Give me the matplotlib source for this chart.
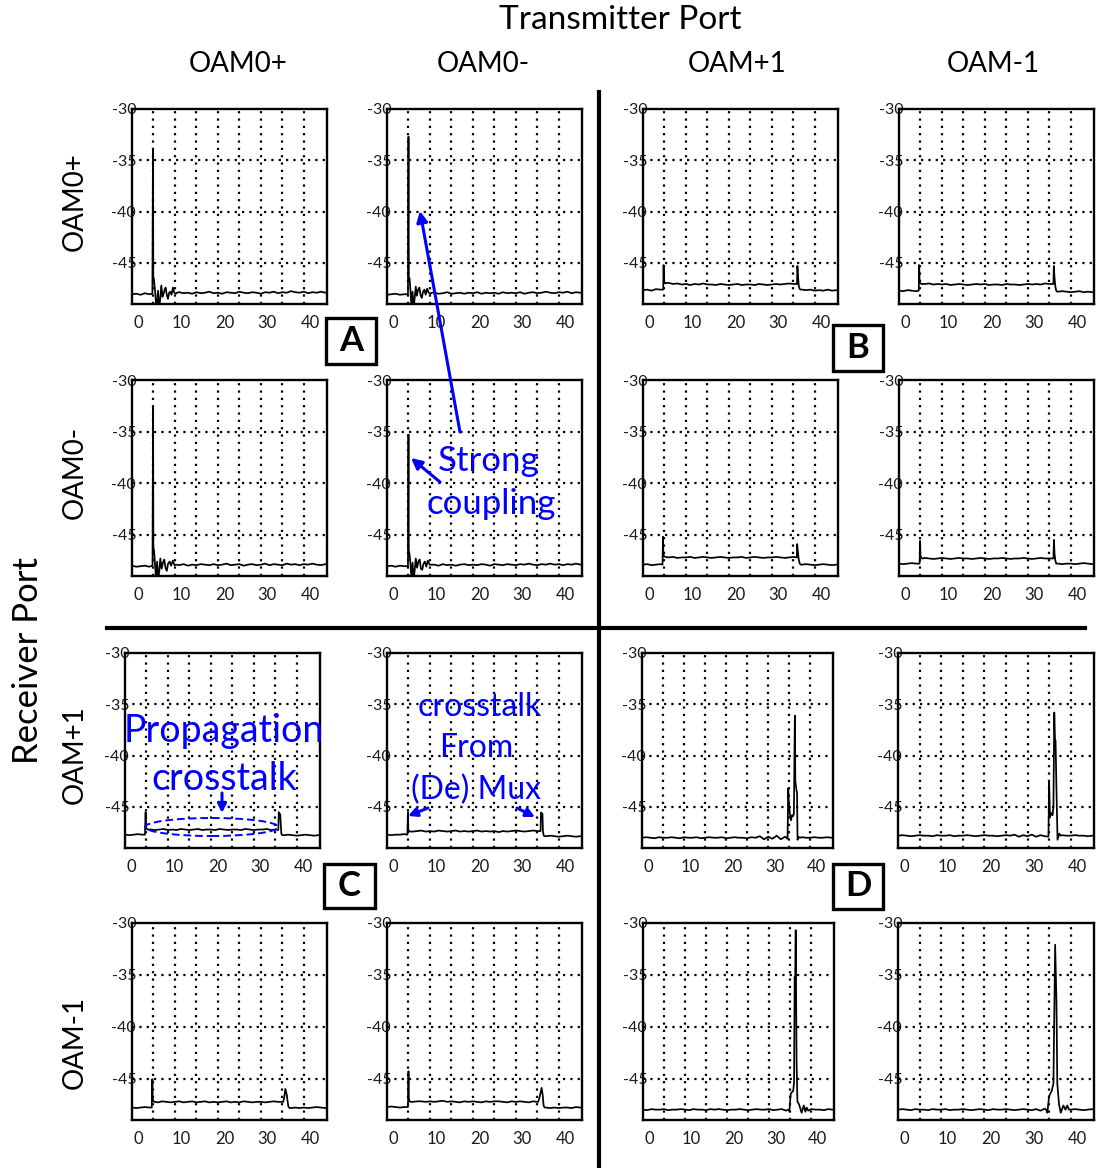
import matplotlib
matplotlib.use("Agg")
import matplotlib.pyplot as plt
from matplotlib.lines import Line2D
from matplotlib.patches import Rectangle, Ellipse, FancyArrowPatch

plt.rcParams['font.family'] = ['Lato', 'DejaVu Sans']
plt.rcParams['axes.unicode_minus'] = False

# ---------------------------------------------------------------- data ----
TX_PORTS = ['OAM0+', 'OAM0-', 'OAM+1', 'OAM-1']   # columns (transmitter)
RX_PORTS = ['OAM0+', 'OAM0-', 'OAM+1', 'OAM-1']   # rows (receiver)

X_TICKS = [0, 10, 20, 30, 40]
Y_TICKS = [-30, -35, -40, -45]
X_GRID = [3.5, 8.5, 13.5, 18.5, 23.5, 28.5, 33.5, 38.5]
Y_GRID = [-35, -40, -45]

# sample positions of the noise floor (shared by all traces)
BASE_X = [-1.5, -0.5, 0.5, 1.5, 2.5, 3.5, 4.5, 5.5, 6.5, 7.5,
          8.5, 9.5, 10.5, 11.5, 12.5, 13.5, 14.5, 15.5, 16.5, 17.5,
          18.5, 19.5, 20.5, 21.5, 22.5, 23.5, 24.5, 25.5, 26.5, 27.5,
          28.5, 29.5, 30.5, 31.5, 32.5, 33.5, 34.5, 35.5, 36.5, 37.5,
          38.5, 39.5, 40.5, 41.5, 42.5, 43.5, 43.9]

# --- Rx OAM0+ / Tx OAM0+
r1c1_base = [-48.05, -48.0, -48.1, -47.95, -48.05, -48.0, -48.0, -48.0, -48.0, -48.0,
             -47.95, -47.85, -47.95, -47.9, -48.0, -47.85, -47.95, -47.9, -47.8, -47.95,
             -47.9, -48.0, -47.85, -47.9, -47.95, -47.8, -47.9, -47.95, -47.85, -47.9,
             -48.0, -47.85, -47.9, -47.8, -47.95, -47.85, -47.9, -47.75, -47.85, -47.9,
             -47.8, -47.95, -47.85, -47.9, -47.8, -47.9, -47.85]
r1c1_px = [3.25, 3.38, 3.45, 3.62, 3.93, 4.15, 4.31, 4.55, 4.78, 5.05, 5.32, 5.6,
           5.86, 6.1, 6.33, 6.6, 6.87, 7.15, 7.41, 7.7, 8.03, 8.35, 8.66, 9.0]
r1c1_py = [-48.0, -34.0, -46.3, -46.65, -48.0, -49.4, -49.4, -47.7, -49.4, -48.6, -47.2, -48.3,
           -48.0, -47.6, -47.4, -48.1, -48.5, -47.9, -47.8, -48.1, -47.4, -47.9, -48.0, -47.9]

# --- Rx OAM0+ / Tx OAM0-
r1c2_base = [-48.1, -48.05, -48.0, -48.1, -48.05, -48.0, -48.0, -48.0, -48.0, -48.0,
             -48.0, -47.9, -48.0, -47.95, -47.85, -48.0, -47.95, -47.9, -48.0, -47.9,
             -47.95, -47.85, -48.0, -47.9, -47.95, -47.9, -48.0, -47.85, -47.95, -47.9,
             -47.95, -47.85, -48.0, -47.9, -47.85, -47.95, -47.9, -47.8, -47.9, -47.95,
             -47.85, -47.9, -47.8, -47.95, -47.85, -47.9, -47.9]
r1c2_px = [3.38, 3.5, 3.58, 3.75, 4.0, 4.2, 4.45, 4.7, 4.95, 5.2, 5.45,
           5.75, 6.05, 6.35, 6.6, 6.9, 7.2, 7.5, 7.85, 8.2, 8.6, 9.0]
r1c2_py = [-48.05, -32.7, -46.4, -46.5, -47.9, -49.4, -47.8, -49.4, -48.4, -47.3, -48.2,
           -47.6, -47.4, -48.2, -48.4, -47.8, -47.6, -48.1, -47.5, -47.9, -48.0, -47.9]

# --- Rx OAM0+ / Tx OAM+1
r1c3_base = [-47.65, -47.6, -47.7, -47.55, -47.6, -47.0, -46.95, -47.05, -47.0, -47.1,
             -47.05, -47.15, -47.05, -47.1, -47.0, -47.1, -47.1, -47.15, -47.05, -47.1,
             -47.15, -47.1, -47.05, -47.15, -47.1, -47.1, -47.15, -47.05, -47.1, -47.15,
             -47.1, -47.05, -47.1, -47.05, -47.0, -47.05, -47.0, -47.6, -47.65, -47.6,
             -47.7, -47.65, -47.7, -47.6, -47.7, -47.65, -47.7]
r1c3_lx = [3.2, 3.3, 3.38, 3.6, 3.85]
r1c3_ly = [-47.6, -45.2, -46.8, -47.0, -46.95]
r1c3_rx = [34.35, 34.45, 34.6, 34.75, 35.0, 35.25]
r1c3_ry = [-47.05, -45.3, -46.3, -47.2, -47.55, -47.6]

# --- Rx OAM0+ / Tx OAM-1
r1c4_base = [-47.7, -47.75, -47.65, -47.7, -47.75, -47.0, -47.05, -47.0, -47.1, -47.05,
             -47.1, -47.05, -47.15, -47.1, -47.05, -47.1, -47.15, -47.1, -47.05, -47.1,
             -47.05, -47.15, -47.1, -47.1, -47.15, -47.05, -47.1, -47.1, -47.15, -47.1,
             -47.05, -47.1, -47.05, -47.1, -47.0, -47.05, -47.0, -47.8, -47.75, -47.8,
             -47.85, -47.8, -47.75, -47.85, -47.8, -47.85, -47.8]
r1c4_lx = [3.1, 3.2, 3.3, 3.5, 3.8]
r1c4_ly = [-47.7, -45.2, -46.9, -47.0, -47.05]
r1c4_rx = [34.45, 34.55, 34.7, 34.9, 35.1, 35.35]
r1c4_ry = [-47.05, -45.3, -46.4, -47.3, -47.7, -47.8]

# --- Rx OAM0- / Tx OAM0+
r2c1_base = [-48.0, -48.1, -48.05, -48.0, -48.1, -48.0, -48.0, -48.0, -48.0, -48.0,
             -47.9, -47.95, -47.85, -48.0, -47.9, -47.95, -47.85, -47.9, -47.95, -47.85,
             -47.95, -47.9, -47.8, -47.95, -47.9, -47.85, -48.0, -47.9, -47.85, -47.95,
             -47.9, -47.8, -47.95, -47.85, -47.9, -47.95, -47.8, -47.9, -47.85, -47.95,
             -47.85, -47.9, -47.8, -47.9, -47.95, -47.85, -47.9]
r2c1_px = [3.28, 3.4, 3.47, 3.65, 3.9, 4.1, 4.35, 4.6, 4.85, 5.1, 5.4,
           5.7, 6.0, 6.3, 6.6, 6.9, 7.25, 7.6, 8.0, 8.4, 8.8]
r2c1_py = [-48.0, -32.6, -46.2, -46.6, -48.1, -49.4, -47.6, -49.4, -48.5, -47.3, -48.3,
           -47.7, -47.4, -48.2, -48.5, -47.8, -47.6, -48.0, -47.5, -47.95, -47.9]

# --- Rx OAM0- / Tx OAM0-
r2c2_base = [-48.05, -48.0, -48.1, -48.0, -48.05, -48.0, -48.0, -48.0, -48.0, -48.0,
             -47.95, -47.9, -48.0, -47.85, -47.95, -47.9, -48.0, -47.9, -47.85, -47.95,
             -47.9, -47.95, -47.85, -47.9, -48.0, -47.85, -47.9, -47.95, -47.85, -47.9,
             -47.95, -47.85, -47.9, -47.8, -47.9, -47.95, -47.85, -47.9, -47.8, -47.9,
             -47.85, -47.95, -47.85, -47.9, -47.8, -47.9, -47.85]
r2c2_px = [3.38, 3.5, 3.57, 3.72, 3.98, 4.2, 4.45, 4.7, 4.95, 5.2, 5.5,
           5.8, 6.1, 6.4, 6.7, 7.0, 7.3, 7.65, 8.0, 8.4, 8.8]
r2c2_py = [-48.05, -35.3, -46.5, -46.8, -47.9, -49.4, -47.7, -49.4, -48.4, -47.3, -48.2,
           -47.6, -47.4, -48.3, -48.4, -47.8, -47.6, -48.1, -47.5, -47.9, -47.9]

# --- Rx OAM0- / Tx OAM+1
r2c3_base = [-47.9, -47.85, -47.95, -47.9, -47.85, -47.15, -47.2, -47.15, -47.25, -47.2,
             -47.2, -47.15, -47.25, -47.2, -47.15, -47.2, -47.25, -47.2, -47.15, -47.2,
             -47.25, -47.2, -47.2, -47.15, -47.25, -47.2, -47.15, -47.2, -47.25, -47.2,
             -47.2, -47.15, -47.2, -47.25, -47.2, -47.15, -47.2, -47.9, -47.85, -47.9,
             -47.95, -47.9, -47.85, -47.9, -47.95, -47.9, -47.85]
r2c3_lx = [3.05, 3.15, 3.25, 3.45, 3.75]
r2c3_ly = [-47.9, -45.2, -46.9, -47.1, -47.15]
r2c3_rx = [34.3, 34.4, 34.55, 34.75, 35.0, 35.25]
r2c3_ry = [-47.2, -45.9, -46.6, -47.4, -47.8, -47.9]

# --- Rx OAM0- / Tx OAM-1
r2c4_base = [-47.8, -47.85, -47.8, -47.75, -47.8, -47.3, -47.25, -47.3, -47.35, -47.3,
             -47.25, -47.3, -47.35, -47.3, -47.25, -47.3, -47.3, -47.35, -47.3, -47.25,
             -47.3, -47.35, -47.3, -47.3, -47.25, -47.3, -47.35, -47.3, -47.3, -47.25,
             -47.3, -47.35, -47.3, -47.25, -47.3, -47.3, -47.3, -47.8, -47.85, -47.8,
             -47.8, -47.85, -47.8, -47.75, -47.8, -47.85, -47.8]
r2c4_lx = [3.3, 3.4, 3.5, 3.7, 3.95]
r2c4_ly = [-47.8, -45.6, -47.0, -47.25, -47.3]
r2c4_rx = [34.45, 34.58, 34.7, 34.9, 35.1, 35.35]
r2c4_ry = [-47.3, -45.5, -46.8, -47.5, -47.8, -47.8]

# --- Rx OAM+1 / Tx OAM0+
r3c1_base = [-47.7, -47.75, -47.7, -47.65, -47.7, -47.2, -47.2, -47.25, -47.2, -47.15,
             -47.25, -47.2, -47.25, -47.15, -47.2, -47.25, -47.2, -47.15, -47.25, -47.2,
             -47.2, -47.25, -47.15, -47.2, -47.25, -47.2, -47.2, -47.25, -47.15, -47.2,
             -47.25, -47.2, -47.2, -47.15, -47.25, -47.2, -47.2, -47.75, -47.7, -47.75,
             -47.8, -47.75, -47.7, -47.75, -47.8, -47.75, -47.7]
r3c1_lx = [3.15, 3.3, 3.4, 3.6, 3.85]
r3c1_ly = [-47.7, -45.5, -47.0, -47.15, -47.2]
r3c1_rx = [34.2, 34.3, 34.5, 34.65, 34.75, 34.9, 35.1]
r3c1_ry = [-47.25, -45.5, -45.8, -45.7, -46.6, -47.6, -47.75]

# --- Rx OAM+1 / Tx OAM0-
r3c2_base = [-47.7, -47.75, -47.7, -47.7, -47.65, -47.35, -47.4, -47.35, -47.3, -47.4,
             -47.35, -47.4, -47.3, -47.35, -47.4, -47.35, -47.3, -47.4, -47.35, -47.4,
             -47.35, -47.3, -47.4, -47.35, -47.4, -47.35, -47.45, -47.35, -47.4, -47.35,
             -47.3, -47.35, -47.4, -47.35, -47.3, -47.35, -47.35, -47.85, -47.8, -47.85,
             -47.9, -47.85, -47.8, -47.85, -47.9, -47.85, -47.9]
r3c2_lx = [3.25, 3.38, 3.45, 3.65, 3.9]
r3c2_ly = [-47.7, -45.5, -47.2, -47.35, -47.4]
r3c2_rx = [34.25, 34.35, 34.5, 34.7, 34.8, 35.0, 35.2]
r3c2_ry = [-47.35, -45.55, -45.6, -45.7, -47.4, -47.8, -47.85]

# --- Rx OAM+1 / Tx OAM+1
r3c3_base = [-48.0, -47.95, -48.0, -48.05, -47.95, -48.0, -48.0, -47.95, -48.0, -48.05,
             -47.95, -48.0, -48.0, -47.95, -48.05, -48.0, -47.95, -48.0, -48.0, -47.95,
             -48.05, -48.0, -47.95, -48.0, -48.0, -48.05, -47.95, -48.0, -47.85, -48.15,
             -47.9, -48.1, -47.8, -48.15, -47.9, -48.1, -48.0, -48.0, -47.95, -48.0,
             -48.0, -47.95, -48.0, -48.0, -47.95, -48.0, -48.0]
r3c3_px = [33.1, 33.25, 33.4, 33.65, 33.9, 34.2, 34.4, 34.6, 34.83, 34.95,
           35.23, 35.35, 35.47, 35.7, 36.0]
r3c3_py = [-48.1, -43.2, -44.5, -45.65, -46.3, -45.8, -45.9, -45.7, -36.1, -42.5,
           -43.4, -43.6, -48.2, -47.9, -48.0]

# --- Rx OAM+1 / Tx OAM-1
r3c4_base = [-47.8, -47.75, -47.8, -47.85, -47.8, -47.75, -47.8, -47.8, -47.85, -47.75,
             -47.8, -47.8, -47.75, -47.85, -47.8, -47.8, -47.75, -47.8, -47.85, -47.8,
             -47.75, -47.8, -47.8, -47.85, -47.8, -47.75, -47.8, -47.7, -47.9, -47.75,
             -47.85, -47.7, -47.9, -47.75, -47.85, -47.8, -47.8, -47.8, -47.75, -47.8,
             -47.8, -47.75, -47.8, -47.8, -47.85, -47.8, -47.75]
r3c4_px = [33.35, 33.5, 33.7, 34.0, 34.3, 34.5, 34.7, 34.85, 35.0, 35.2,
           35.45, 35.85, 36.2]
r3c4_py = [-47.9, -42.6, -46.0, -45.6, -45.8, -45.0, -35.8, -38.3, -38.6, -43.2,
           -48.2, -47.6, -47.8]

# --- Rx OAM-1 / Tx OAM0+
r4c1_base = [-47.8, -47.85, -47.8, -47.75, -47.8, -47.25, -47.3, -47.2, -47.25, -47.3,
             -47.25, -47.2, -47.3, -47.25, -47.2, -47.3, -47.25, -47.2, -47.3, -47.25,
             -47.3, -47.25, -47.2, -47.3, -47.25, -47.3, -47.2, -47.25, -47.3, -47.25,
             -47.25, -47.3, -47.25, -47.2, -47.25, -47.25, -47.25, -47.85, -47.8, -47.85,
             -47.8, -47.85, -47.8, -47.75, -47.8, -47.85, -47.8]
r4c1_lx = [3.1, 3.24, 3.32, 3.5, 3.75]
r4c1_ly = [-47.8, -45.06, -46.9, -47.2, -47.25]
r4c1_rx = [33.7, 33.95, 34.2, 34.5, 34.9, 35.2]
r4c1_ry = [-47.25, -46.8, -46.0, -46.5, -47.7, -47.85]

# --- Rx OAM-1 / Tx OAM0-
r4c2_base = [-47.75, -47.7, -47.75, -47.8, -47.75, -47.2, -47.25, -47.2, -47.2, -47.25,
             -47.2, -47.25, -47.2, -47.15, -47.25, -47.2, -47.25, -47.3, -47.2, -47.25,
             -47.2, -47.25, -47.3, -47.2, -47.25, -47.2, -47.2, -47.25, -47.3, -47.2,
             -47.25, -47.2, -47.25, -47.3, -47.2, -47.25, -47.25, -47.8, -47.85, -47.8,
             -47.85, -47.8, -47.8, -47.85, -47.75, -47.8, -47.85]
r4c2_lx = [3.38, 3.5, 3.58, 3.75, 4.0]
r4c2_ly = [-47.75, -44.3, -46.9, -47.2, -47.25]
r4c2_rx = [33.7, 33.95, 34.25, 34.5, 34.75, 34.95, 35.2]
r4c2_ry = [-47.25, -46.9, -46.4, -45.9, -46.6, -47.6, -47.8]

# --- Rx OAM-1 / Tx OAM+1
r4c3_base = [-48.0, -48.05, -47.95, -48.0, -48.0, -47.95, -48.05, -48.0, -48.0, -47.95,
             -48.0, -48.05, -47.95, -48.0, -48.0, -48.05, -47.95, -48.0, -47.95, -48.0,
             -48.05, -48.0, -48.0, -47.95, -48.0, -48.05, -48.0, -47.95, -48.0, -48.0,
             -47.95, -48.05, -48.0, -47.95, -48.1, -48.0, -48.0, -48.0, -48.0, -48.0,
             -47.95, -48.0, -48.0, -48.05, -47.95, -48.0, -48.0]
r4c3_px = [33.0, 33.3, 33.6, 33.9, 34.2, 34.4, 34.55, 34.65, 34.8, 35.0, 35.2,
           35.6, 36.2, 36.7, 37.1, 37.4, 37.8, 38.2]
r4c3_py = [-48.0, -48.15, -46.5, -46.3, -46.2, -45.4, -35.2, -36.0, -30.7, -43.3, -47.2,
           -47.5, -48.3, -47.6, -48.2, -47.8, -48.1, -48.0]

# --- Rx OAM-1 / Tx OAM-1
r4c4_base = [-48.0, -47.95, -48.0, -48.05, -47.95, -48.0, -48.0, -48.05, -47.95, -48.0,
             -48.0, -47.95, -48.05, -48.0, -48.0, -47.95, -48.0, -48.05, -48.0, -47.95,
             -48.0, -48.05, -47.95, -48.0, -48.0, -47.95, -48.0, -48.05, -48.0, -47.95,
             -48.0, -48.05, -47.95, -48.1, -47.9, -48.0, -48.0, -48.0, -48.0, -48.0,
             -48.0, -47.95, -48.0, -48.05, -48.0, -47.95, -48.0]
r4c4_px = [32.8, 33.1, 33.5, 34.1, 34.5, 34.9, 35.2, 35.4, 35.8, 36.2, 36.8,
           37.3, 37.7, 38.1]
r4c4_py = [-48.0, -48.3, -46.7, -46.2, -45.5, -32.1, -37.5, -45.5, -47.5, -48.3, -47.6,
           -48.0, -47.6, -48.0]

# noise floor + event segments for every receiver/transmitter pair
PANELS = [
    [(r1c1_base, [(r1c1_px, r1c1_py)]),
     (r1c2_base, [(r1c2_px, r1c2_py)]),
     (r1c3_base, [(r1c3_lx, r1c3_ly), (r1c3_rx, r1c3_ry)]),
     (r1c4_base, [(r1c4_lx, r1c4_ly), (r1c4_rx, r1c4_ry)])],
    [(r2c1_base, [(r2c1_px, r2c1_py)]),
     (r2c2_base, [(r2c2_px, r2c2_py)]),
     (r2c3_base, [(r2c3_lx, r2c3_ly), (r2c3_rx, r2c3_ry)]),
     (r2c4_base, [(r2c4_lx, r2c4_ly), (r2c4_rx, r2c4_ry)])],
    [(r3c1_base, [(r3c1_lx, r3c1_ly), (r3c1_rx, r3c1_ry)]),
     (r3c2_base, [(r3c2_lx, r3c2_ly), (r3c2_rx, r3c2_ry)]),
     (r3c3_base, [(r3c3_px, r3c3_py)]),
     (r3c4_base, [(r3c4_px, r3c4_py)])],
    [(r4c1_base, [(r4c1_lx, r4c1_ly), (r4c1_rx, r4c1_ry)]),
     (r4c2_base, [(r4c2_lx, r4c2_ly), (r4c2_rx, r4c2_ry)]),
     (r4c3_base, [(r4c3_px, r4c3_py)]),
     (r4c4_base, [(r4c4_px, r4c4_py)])],
]


def merge_trace(base_y, segments):
    """Noise-floor samples outside the event segments, plus the segments."""
    spans = [(min(sx), max(sx)) for sx, _ in segments]
    pts = [(x, y) for x, y in zip(BASE_X, base_y)
           if not any(lo <= x <= hi for lo, hi in spans)]
    for sx, sy in segments:
        pts.extend(zip(sx, sy))
    pts.sort()
    return [p[0] for p in pts], [p[1] for p in pts]


# -------------------------------------------------------------- layout ----
W, H = 1099, 1168
fig = plt.figure(figsize=(W / 100, H / 100), dpi=100)
fig.patch.set_facecolor('white')


def fx(px):
    return px / W


def fy(py):
    return 1 - py / H


PANEL_LEFT = [[132, 387, 643, 899],
              [132, 387, 643, 899],
              [125, 387, 642, 898],
              [132, 387, 643, 898]]
PANEL_WIDTH = [[195, 195, 195, 195],
               [195, 195, 195, 195],
               [195, 195, 191, 196],
               [195, 195, 191, 196]]
PANEL_TOP = [109, 380, 653, 923]
PANEL_HEIGHT = [195, 196, 195, 197]

GRID_STYLE = dict(color='black', lw=1.6, ls=(0, (1.0, 2.3)), zorder=1)

for r in range(4):
    for c in range(4):
        left, wid = PANEL_LEFT[r][c], PANEL_WIDTH[r][c]
        top, hei = PANEL_TOP[r], PANEL_HEIGHT[r]
        ax = fig.add_axes([fx(left), fy(top + hei), wid / W, hei / H])
        ax.set_xlim(-1.5, 43.9)
        ax.set_ylim(-49, -30)
        ax.set_xticks(X_TICKS)
        ax.set_xticklabels([str(v) for v in X_TICKS])
        ax.set_yticks(Y_TICKS)
        ax.set_yticklabels([str(v) for v in Y_TICKS])
        ax.tick_params(axis='both', length=0, colors='#1a1a1a')
        ax.tick_params(axis='x', labelsize=12, pad=8)
        ax.tick_params(axis='y', labelsize=11.5, pad=-3)
        for gx in X_GRID:
            ax.axvline(gx, **GRID_STYLE)
        for gy in Y_GRID:
            ax.axhline(gy, **GRID_STYLE)
        for sp in ax.spines.values():
            sp.set_linewidth(1.7)
            sp.set_color('black')
            sp.set_zorder(4)
        base_y, segs = PANELS[r][c]
        tx, ty = merge_trace(base_y, segs)
        ax.plot(tx, ty, color='black', lw=1.25, zorder=3)

# ------------------------------------------------------ headers / labels ----
fig.text(fx(620), fy(20), 'Transmitter Port', fontsize=24, ha='center', va='center')
for x_px, name in zip([238, 483, 737, 993], TX_PORTS):
    fig.text(fx(x_px), fy(64), name, fontsize=20, ha='center', va='center')
for y_px, name in zip([202, 472, 755, 1042], RX_PORTS):
    fig.text(fx(75), fy(y_px), name, fontsize=20, ha='center', va='center',
             rotation=90)
fig.text(fx(28), fy(660), 'Receiver Port', fontsize=25, ha='center', va='center',
         rotation=90)

# quadrant dividers
fig.add_artist(Line2D([fx(599), fx(599)], [fy(92), fy(1168)],
                      transform=fig.transFigure, color='black', lw=3))
fig.add_artist(Line2D([fx(107), fx(1085)], [fy(628), fy(628)],
                      transform=fig.transFigure, color='black', lw=3))

# quadrant letters
for letter, (x0, y0, x1, y1) in zip('ABCD', [(326, 318, 376, 364),
                                            (833, 325, 883, 371),
                                            (324, 864, 375, 908),
                                            (833, 864, 883, 909)]):
    fig.add_artist(Rectangle((fx(x0), fy(y1)), (x1 - x0) / W, (y1 - y0) / H,
                             transform=fig.transFigure, fill=True, fc='white',
                             ec='black', lw=2.4, zorder=5))
    fig.text(fx((x0 + x1) / 2), fy((y0 + y1) / 2), letter, fontsize=25,
             fontweight='bold', ha='center', va='center', zorder=6)

# --------------------------------------------------------- annotations ----
BLUE = '#0000ff'


def arrow(x0, y0, x1, y1, scale=16):
    fig.add_artist(FancyArrowPatch((fx(x0), fy(y0)), (fx(x1), fy(y1)),
                                   transform=fig.transFigure, arrowstyle='-|>',
                                   mutation_scale=scale, lw=2.2, color=BLUE,
                                   shrinkA=0, shrinkB=0, zorder=6))


fig.text(fx(489), fy(471), 'Strong', fontsize=25, color=BLUE, ha='center',
         va='baseline')
fig.text(fx(491), fy(514), 'coupling', fontsize=25, color=BLUE, ha='center',
         va='baseline')
arrow(460, 432, 420, 211)
arrow(440, 482, 411, 458)

fig.text(fx(223.5), fy(742), 'Propagation', fontsize=27, color=BLUE, ha='center',
         va='baseline')
fig.text(fx(224), fy(790), 'crosstalk', fontsize=27, color=BLUE, ha='center',
         va='baseline')
arrow(222, 793, 222, 813, scale=13)
fig.add_artist(Ellipse((fx(211.5), fy(827)), 133 / W, 18 / H,
                       transform=fig.transFigure, fill=False, ec=BLUE,
                       ls=(0, (4, 2)), lw=1.4, zorder=6))

fig.text(fx(479.5), fy(716), 'crosstalk', fontsize=23, color=BLUE, ha='center',
         va='baseline')
fig.text(fx(476), fy(757), 'From', fontsize=23, color=BLUE, ha='center',
         va='baseline')
fig.text(fx(476), fy(799), '(De) Mux', fontsize=23, color=BLUE, ha='center',
         va='baseline')
arrow(428, 808, 408, 816, scale=13)
arrow(517, 808, 535, 817, scale=13)

fig.savefig('out.png', dpi=100, facecolor='white')
